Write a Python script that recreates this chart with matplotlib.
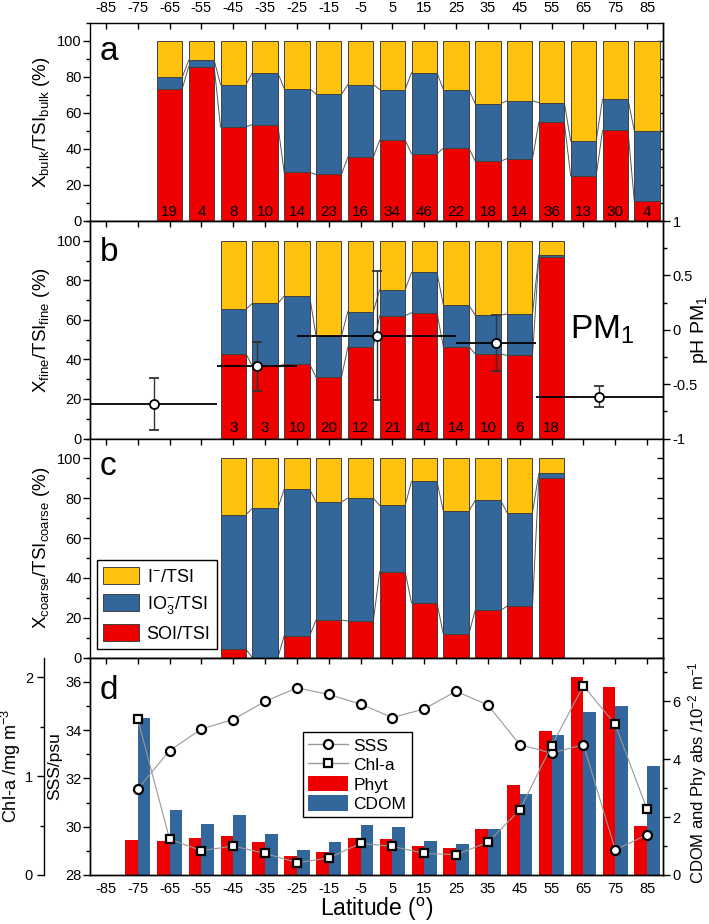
"""Iodine speciation vs latitude: bulk / fine / coarse fractions and ocean properties.

Saves out.png (709x924 px).
"""
import matplotlib
import numpy as np

matplotlib.use("Agg")
import matplotlib.pyplot as plt  # noqa: E402
from matplotlib.lines import Line2D  # noqa: E402
from matplotlib.patches import Patch  # noqa: E402
from matplotlib.ticker import MultipleLocator  # noqa: E402

plt.rcParams["font.family"] = ["Liberation Sans", "DejaVu Sans"]
plt.rcParams["mathtext.fontset"] = "custom"
plt.rcParams["mathtext.rm"] = "Liberation Sans"
plt.rcParams["mathtext.it"] = "Liberation Sans:italic"
plt.rcParams["mathtext.bf"] = "Liberation Sans:bold"
plt.rcParams["axes.unicode_minus"] = False
plt.rcParams["axes.linewidth"] = 1.0

YELLOW = "#FFC20E"
BLUE = "#33669A"
RED = "#EE0000"
EDGE = "#404040"
LINK = "#555555"

# ---- panel a: bulk ----
LAT_BULK = [-65, -55, -45, -35, -25, -15, -5, 5, 15, 25, 35, 45, 55, 65, 75, 85]
SOI_BULK = [73.6, 85.8, 52.3, 53.6, 27.0, 25.9, 35.5, 44.9, 37.3, 40.5, 33.3, 34.6, 54.9, 25.0, 50.3, 10.9]
IO3_BULK = [6.4, 3.5, 23.5, 28.7, 46.6, 44.5, 40.3, 28.1, 45.1, 32.5, 31.9, 32.1, 10.9, 19.4, 17.4, 39.0]
IOD_BULK = [20.0, 10.7, 24.2, 17.7, 26.4, 29.6, 24.2, 27.0, 17.6, 27.0, 34.8, 33.3, 34.2, 55.6, 32.3, 50.1]
N_BULK = [19, 4, 8, 10, 14, 23, 16, 34, 46, 22, 18, 14, 36, 13, 30, 4]

# ---- panel b: fine (PM1) ----
LAT_FINE = [-45, -35, -25, -15, -5, 5, 15, 25, 35, 45, 55]
SOI_FINE = [42.9, 36.5, 37.6, 31.0, 46.2, 62.1, 63.6, 46.5, 42.8, 42.0, 91.9]
IO3_FINE = [22.5, 31.8, 34.4, 20.9, 18.0, 13.1, 20.4, 21.0, 19.6, 20.9, 1.0]
IOD_FINE = [34.6, 31.7, 28.0, 48.1, 35.8, 24.8, 16.0, 32.5, 37.6, 37.1, 7.1]
N_FINE = [3, 3, 10, 20, 12, 21, 41, 14, 10, 6, 18]

PH_LAT = [-70, -37.5, 0, 37.5, 70]
PH_HALF = [20, 12.5, 25, 12.5, 20]
PH_VAL = [-0.684, -0.334, -0.053, -0.122, -0.616]
PH_ERR = [0.24, 0.225, 0.59, 0.26, 0.095]

# ---- panel c: coarse ----
LAT_COARSE = [-45, -35, -25, -15, -5, 5, 15, 25, 35, 45, 55]
SOI_COARSE = [4.2, 0.0, 11.0, 18.9, 18.4, 43.2, 27.5, 11.8, 23.8, 25.8, 90.2]
IO3_COARSE = [67.6, 74.9, 73.5, 59.2, 61.7, 33.2, 61.0, 61.7, 55.1, 47.0, 2.4]
IOD_COARSE = [28.2, 25.1, 15.5, 21.9, 19.9, 23.6, 11.5, 26.5, 21.1, 27.2, 7.4]

# ---- panel d: ocean properties ----
LAT_D = [-75, -65, -55, -45, -35, -25, -15, -5, 5, 15, 25, 35, 45, 55, 65, 75, 85]
PHYT = [1.21, 1.16, 1.26, 1.35, 1.14, 0.66, 0.78, 1.28, 1.25, 1.01, 0.93, 1.60, 3.10, 4.97, 6.83, 6.48, 1.70]
CDOM = [5.42, 2.23, 1.75, 2.08, 1.41, 0.85, 1.15, 1.72, 1.67, 1.18, 1.07, 1.60, 2.79, 4.83, 5.64, 5.85, 3.77]
SSS = [31.56, 33.15, 34.05, 34.44, 35.19, 35.75, 35.48, 35.08, 34.52, 34.88, 35.61, 35.04, 33.40, 33.05,
       33.40, 29.04, 29.67]
CHLA = [1.578, 0.364, 0.246, 0.293, 0.219, 0.125, 0.172, 0.320, 0.290, 0.219, 0.206, 0.331, 0.658, 1.309,
        1.916, 1.524, 0.664]

LAT_TICKS = np.arange(-85, 86, 10)

W_PX, H_PX = 709, 924
LEFT, RIGHT = 90 / W_PX, 663 / W_PX


def box(top_px, bottom_px):
    return [LEFT, 1 - bottom_px / H_PX, RIGHT - LEFT, (bottom_px - top_px) / H_PX]


def stacked(ax, lat, soi, io3, iod, counts=None, ytext=5):
    lat = np.asarray(lat, float)
    soi, io3, iod = (np.asarray(v, float) for v in (soi, io3, iod))
    w = 8
    kw = dict(edgecolor=EDGE, linewidth=0.7, zorder=2)
    ax.bar(lat, soi, w, color=RED, **kw)
    ax.bar(lat, io3, w, bottom=soi, color=BLUE, **kw)
    ax.bar(lat, iod, w, bottom=soi + io3, color=YELLOW, **kw)
    # Origin-style connecting lines between neighbouring columns
    for lvl in (soi, soi + io3):
        for i in range(len(lat) - 1):
            ax.plot([lat[i] + w / 2, lat[i + 1] - w / 2], [lvl[i], lvl[i + 1]],
                    color=LINK, lw=0.7, zorder=1)
    if counts is not None:
        for x, n in zip(lat, counts):
            ax.text(x, ytext, str(n), ha="center", va="center", fontsize=11, zorder=3)


def style_frac(ax, label, top_labels=False, right_ticks=True):
    ax.set_xlim(-90, 90)
    ax.set_xticks(LAT_TICKS)
    ax.tick_params(axis="x", direction="in", top=True, bottom=False, labelbottom=False,
                   labeltop=top_labels, length=4, width=1, pad=6, labelsize=10.5)
    ax.set_ylim(0, 110)
    ax.set_yticks(np.arange(0, 101, 20))
    ax.yaxis.set_minor_locator(MultipleLocator(10))
    ax.tick_params(axis="y", which="both", direction="out", left=True, right=False,
                   labelsize=10.5, pad=1, width=1)
    ax.tick_params(axis="y", which="major", length=5)
    ax.tick_params(axis="y", which="minor", length=3)
    ax.set_ylabel(label, fontsize=13.5)
    ax.yaxis.set_label_coords(-0.066, 0.5)
    if right_ticks:
        sec = ax.secondary_yaxis("right")
        sec.set_yticks(np.arange(0, 101, 10))
        sec.tick_params(direction="in", length=4, width=1, labelright=False)


def letter(ax, s, y, transform=None):
    ax.text(-87, y, s, fontsize=24, va="baseline", ha="left",
            transform=transform if transform is not None else ax.transData)


fig = plt.figure(figsize=(7.09, 9.24), dpi=100)

# ---- a ----
ax_a = fig.add_axes(box(23, 221))
stacked(ax_a, LAT_BULK, SOI_BULK, IO3_BULK, IOD_BULK, N_BULK, ytext=5)
style_frac(ax_a, r"X$_\mathrm{bulk}$/TSI$_\mathrm{bulk}$ (%)", top_labels=True)
letter(ax_a, "a", 89.5)

# ---- b ----
ax_b = fig.add_axes(box(221, 438.5))
stacked(ax_b, LAT_FINE, SOI_FINE, IO3_FINE, IOD_FINE, N_FINE, ytext=5.5)
ax_ph = ax_b.twinx()
style_frac(ax_b, r"X$_\mathrm{fine}$/TSI$_\mathrm{fine}$ (%)", right_ticks=False)
letter(ax_b, "b", 90)
ax_b.text(71, 0, "PM$_1$", fontsize=24, va="center", ha="center",
          transform=ax_ph.transData)

ax_ph.errorbar(PH_LAT, PH_VAL, xerr=PH_HALF, fmt="none", ecolor="black", elinewidth=1.3,
               capsize=0, zorder=3)
ax_ph.errorbar(PH_LAT, PH_VAL, yerr=PH_ERR, fmt="o", ms=6.5, mfc="white", mec="black", mew=1.3,
               ecolor="#333333", elinewidth=1.0, capsize=3.5, capthick=1.0, zorder=4)
ax_ph.set_ylim(-1, 1)
ax_ph.set_yticks([-1, -0.5, 0, 0.5, 1])
ax_ph.set_yticklabels(["-1", "-0.5", "0", "0.5", "1"])
ax_ph.yaxis.set_minor_locator(MultipleLocator(0.25))
ax_ph.tick_params(axis="y", which="both", direction="out", labelsize=10.5, pad=2, width=1)
ax_ph.tick_params(axis="y", which="major", length=5)
ax_ph.tick_params(axis="y", which="minor", length=3)
ax_ph.set_ylabel("pH PM$_1$", fontsize=14)
ax_ph.yaxis.set_label_coords(1.045, 0.5)

# ---- c ----
ax_c = fig.add_axes(box(438.5, 657.7))
stacked(ax_c, LAT_COARSE, SOI_COARSE, IO3_COARSE, IOD_COARSE)
style_frac(ax_c, r"X$_\mathrm{coarse}$/TSI$_\mathrm{coarse}$ (%)")
letter(ax_c, "c", 91.5)
handles_c = [
    Patch(facecolor=YELLOW, edgecolor=EDGE, lw=0.7, label=r"I$^{-}$/TSI"),
    Patch(facecolor=BLUE, edgecolor=EDGE, lw=0.7, label=r"IO$_3^{-}$/TSI"),
    Patch(facecolor=RED, edgecolor=EDGE, lw=0.7, label="SOI/TSI"),
]
leg = ax_c.legend(handles=handles_c, loc="lower left", bbox_to_anchor=(0.012, 0.04),
                  borderaxespad=0, fontsize=13, handlelength=2.0, handleheight=1.1,
                  labelspacing=0.45, handletextpad=0.4, borderpad=0.35, fancybox=False,
                  edgecolor="black", framealpha=1)
leg.get_frame().set_linewidth(1.0)

# ---- d ----
ax_d = fig.add_axes(box(657.7, 875))
ax_sss = ax_d.twinx()
ax_chl = ax_d.twinx()

lat_d = np.asarray(LAT_D, float)
ax_d.bar(lat_d - 2, PHYT, 4, color=RED, lw=0, zorder=2)
ax_d.bar(lat_d + 2, CDOM, 4, color=BLUE, lw=0, zorder=2)
ax_d.set_xlim(-90, 90)
ax_d.set_xticks(LAT_TICKS)
ax_d.tick_params(axis="x", direction="in", top=True, bottom=False, length=4, width=1,
                 labelsize=10.5, pad=5)
ax_d.set_ylim(0, 7.5)
ax_d.yaxis.tick_right()
ax_d.yaxis.set_label_position("right")
ax_d.set_yticks([0, 2, 4, 6])
ax_d.yaxis.set_minor_locator(MultipleLocator(1))
ax_d.tick_params(axis="y", which="both", direction="out", labelsize=10.5, pad=2, width=1)
ax_d.tick_params(axis="y", which="major", length=5)
ax_d.tick_params(axis="y", which="minor", length=3)
ax_d.set_ylabel(r"CDOM and Phy abs /10$^{-2}$ m$^{-1}$", fontsize=12)
ax_d.yaxis.set_label_coords(1.040, 0.47)
ax_d.set_xlabel(r"Latitude ($^\mathrm{o}$)", fontsize=16.5, labelpad=0)

ax_sss.plot(LAT_D, SSS, color="#999999", lw=0.8, marker="o", ms=6.5, mfc="white",
            mec="black", mew=1.6, zorder=3)
ax_sss.set_ylim(28, 37)
ax_sss.yaxis.tick_left()
ax_sss.yaxis.set_label_position("left")
ax_sss.set_yticks([28, 30, 32, 34, 36])
ax_sss.yaxis.set_minor_locator(MultipleLocator(1))
ax_sss.tick_params(axis="y", which="both", direction="out", labelsize=10.5, pad=1, width=1)
ax_sss.tick_params(axis="y", which="major", length=5)
ax_sss.tick_params(axis="y", which="minor", length=3)
ax_sss.set_ylabel("SSS/psu", fontsize=12.5)
ax_sss.yaxis.set_label_coords(-0.049, 0.5)

ax_chl.plot(LAT_D, CHLA, color="#999999", lw=0.8, marker="s", ms=6, mfc="white",
            mec="black", mew=1.6, zorder=3)
ax_chl.set_ylim(0, 2.2)
for side in ("top", "bottom", "right"):
    ax_chl.spines[side].set_visible(False)
ax_chl.spines["left"].set_position(("axes", -0.08))
ax_chl.spines["left"].set_visible(True)
ax_chl.yaxis.tick_left()
ax_chl.yaxis.set_label_position("left")
ax_chl.set_yticks([0, 1, 2])
ax_chl.yaxis.set_minor_locator(MultipleLocator(0.5))
ax_chl.tick_params(axis="y", which="both", direction="out", labelsize=10.5, pad=3, width=1)
ax_chl.tick_params(axis="y", which="major", length=5)
ax_chl.tick_params(axis="y", which="minor", length=3)
ax_chl.set_ylabel("Chl-a /mg m$^{-3}$", fontsize=13)
ax_chl.yaxis.set_label_coords(-0.117, 0.5)
letter(ax_chl, "d", 35.3, transform=ax_sss.transData)

handles_d = [
    Line2D([], [], color="#999999", lw=1, marker="o", ms=6.5, mfc="white", mec="black",
           mew=1.6, label="SSS"),
    Line2D([], [], color="#999999", lw=1, marker="s", ms=6, mfc="white", mec="black",
           mew=1.6, label="Chl-a"),
    Patch(facecolor=RED, lw=0, label="Phyt"),
    Patch(facecolor=BLUE, lw=0, label="CDOM"),
]
leg_d = ax_chl.legend(handles=handles_d, loc="upper left", bbox_to_anchor=(0.372, 0.658),
                      borderaxespad=0, fontsize=12.5, handlelength=2.3, handleheight=1.0,
                      labelspacing=0.15, handletextpad=0.3, borderpad=0.3, fancybox=False,
                      edgecolor="black", framealpha=1)
leg_d.get_frame().set_linewidth(1.0)

fig.savefig("out.png", dpi=100)
